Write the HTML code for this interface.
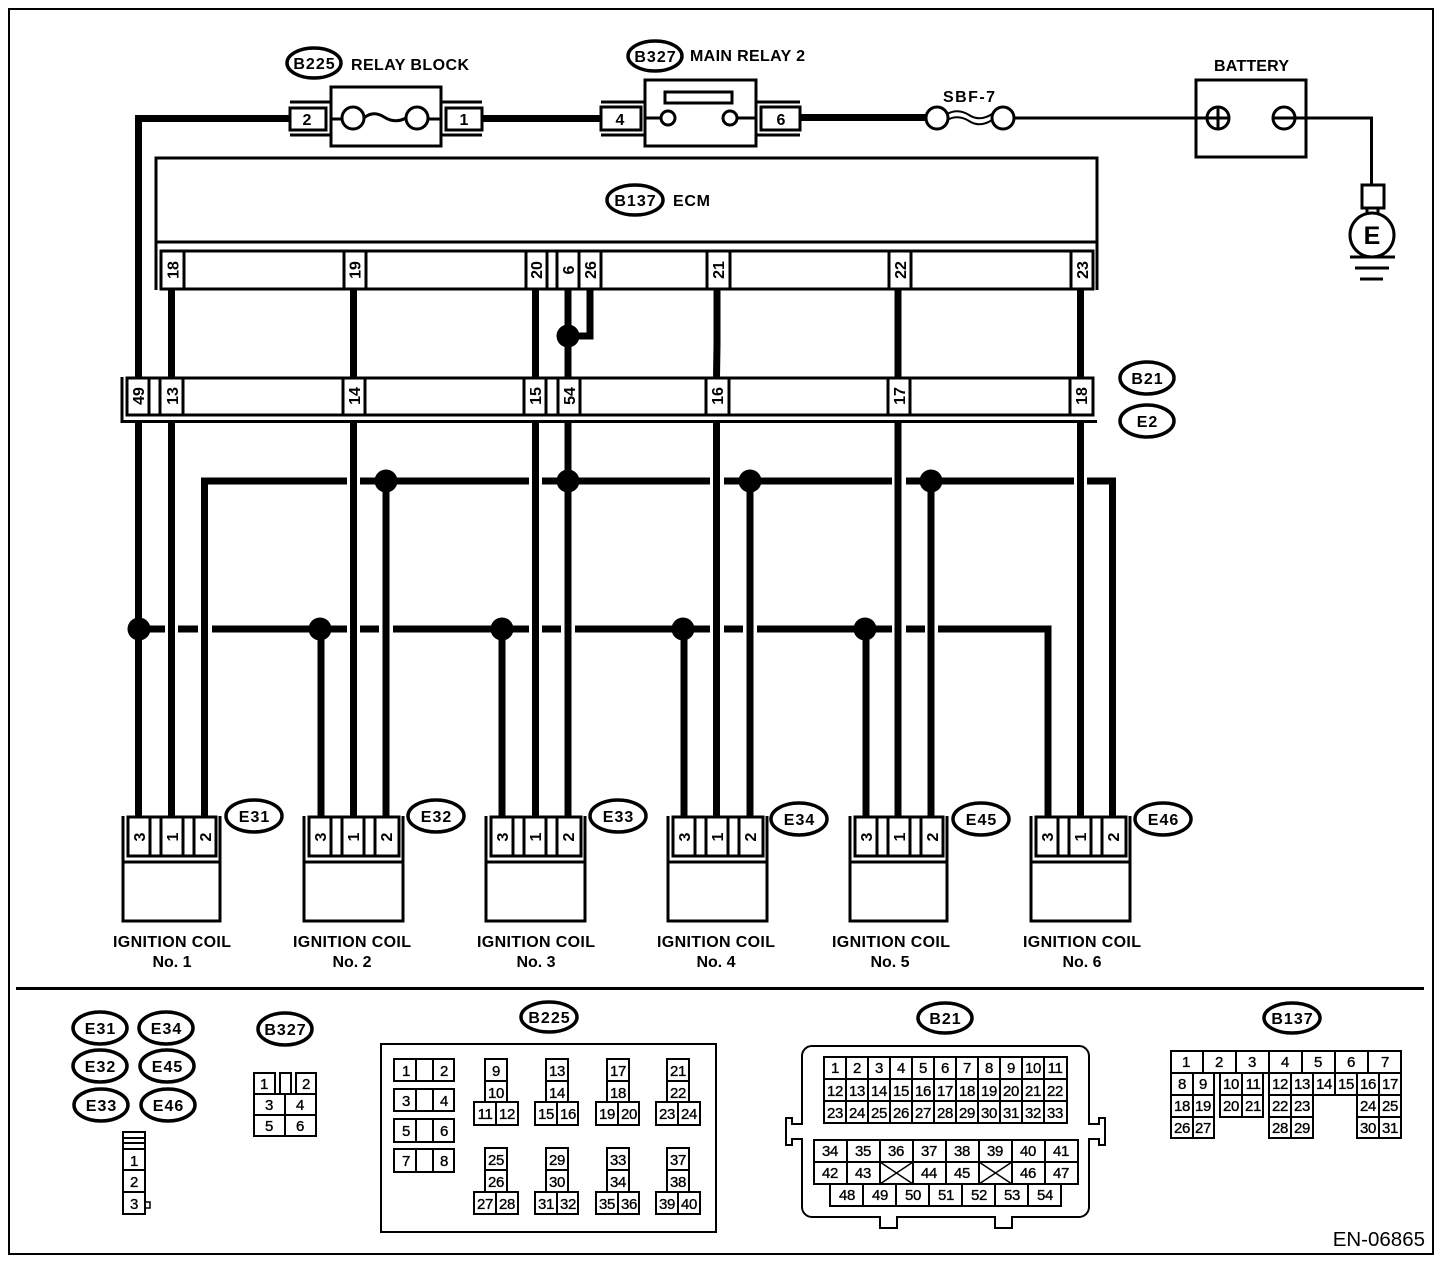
<!DOCTYPE html>
<html><head><meta charset="utf-8"><style>
html,body{margin:0;padding:0;background:#fff}
svg{display:block}
text{font-family:"Liberation Sans",sans-serif;fill:#000}
.b{font-weight:bold;font-size:16px}
.m{text-anchor:middle}
.p{font-weight:bold;font-size:16px;text-anchor:middle}
.o{font-weight:bold;font-size:16px;text-anchor:middle;letter-spacing:1px}
.n{font-size:15px;text-anchor:middle;stroke:#000;stroke-width:.35;letter-spacing:-.4px}
.s{fill:none;stroke:#000;stroke-width:3}
.t{fill:none;stroke:#000;stroke-width:2}
.w{fill:none;stroke:#000;stroke-width:7}
.f{fill:#fff;stroke:#000;stroke-width:3}
.e{fill:#fff;stroke:#000;stroke-width:3.5}
</style></head><body>
<svg width="1456" height="1268" viewBox="0 0 1456 1268" xmlns="http://www.w3.org/2000/svg">
<rect width="1456" height="1268" fill="#fff"/>
<rect x="9" y="9" width="1424" height="1245" class="t"/>

<!-- top wires -->
<path class="w" d="M138.500 380V118.500H290M483 118.500H601M801 117.500H926"/>
<path class="s" d="M1014 118H1207M1284 118H1371.500V186"/>

<!-- relay block -->
<rect x="331" y="87" width="110" height="59" class="s"/>
<path class="s" d="M290 102H331M290 135H331M441 102H482M441 135H482M331 119H342M428 119H441"/>
<rect x="290" y="108" width="36" height="22" class="f"/>
<rect x="446" y="108" width="36" height="22" class="f"/>
<circle cx="353" cy="118" r="11" class="f"/>
<circle cx="417" cy="118" r="11" class="f"/>
<path class="s" d="M364 118Q373 110 384 117T406 118"/>
<text x="307" y="125" class="p">2</text><text x="464" y="125" class="p">1</text>
<ellipse cx="314" cy="63" rx="27" ry="15" class="e"/>
<text x="314.500" y="69" class="o">B225</text>
<text x="351" y="70" class="b" textLength="118">RELAY BLOCK</text>

<!-- main relay -->
<rect x="645" y="80" width="111" height="66" class="s"/>
<rect x="665" y="92" width="67" height="11" class="s"/>
<path class="s" d="M601 102H645M601 135H645M756 102H800M756 135H800M645 118H661M738 118H756"/>
<rect x="601" y="107" width="40" height="23" class="f"/>
<rect x="761" y="107" width="39" height="23" class="f"/>
<circle cx="668" cy="118" r="7" class="f"/><circle cx="730" cy="118" r="7" class="f"/>
<text x="620" y="125" class="p">4</text><text x="781" y="125" class="p">6</text>
<ellipse cx="655" cy="56" rx="27" ry="15" class="e"/>
<text x="655.500" y="62" class="o">B327</text>
<text x="690" y="61" class="b" textLength="115">MAIN RELAY 2</text>

<!-- SBF -->
<circle cx="937" cy="118" r="11" class="f"/><circle cx="1003" cy="118" r="11" class="f"/>
<path class="t" d="M947 114Q958 108 969 115T992 114M947 120Q958 114 969 121T992 120"/>
<text x="943" y="102" class="b" textLength="52">SBF-7</text>

<!-- battery -->
<rect x="1196" y="80" width="110" height="77" class="s"/>
<circle cx="1218" cy="118" r="11" class="s"/><circle cx="1284" cy="118" r="11" class="s"/>
<path class="s" d="M1207 118H1229M1218 107V129M1273 118H1306"/>
<text x="1214" y="71" class="b" textLength="75">BATTERY</text>
<rect x="1362" y="185" width="22" height="23" class="s"/>
<path class="s" d="M1367 208V215M1378 208V215"/>
<circle cx="1372" cy="235" r="22" class="s"/>
<text x="1372" y="244" text-anchor="middle" font-weight="bold" font-size="25">E</text>
<path class="s" d="M1350 257H1395M1355 268H1389M1360 279H1383"/>

<!-- ECM -->
<path class="s" d="M156 290V158H1097V290M156 242H1097"/>
<ellipse cx="635" cy="200" rx="28" ry="15" class="e"/>
<text x="635.500" y="206" class="o">B137</text>
<text x="673" y="206" class="b" textLength="37">ECM</text>
<rect x="161" y="251" width="932" height="38" class="f"/>
<path class="s" d="M184 251V289M344 251V289M366 251V289M526 251V289M547 251V289M557 251V289M579 251V289M601 251V289M707 251V289M730 251V289M889 251V289M911 251V289M1071 251V289"/>
<text transform="translate(178.500 270) rotate(-90)" class="p">18</text>
<text transform="translate(360.500 270) rotate(-90)" class="p">19</text>
<text transform="translate(542 270) rotate(-90)" class="p">20</text>
<text transform="translate(574 270) rotate(-90)" class="p">6</text>
<text transform="translate(596 270) rotate(-90)" class="p">26</text>
<text transform="translate(724 270) rotate(-90)" class="p">21</text>
<text transform="translate(906 270) rotate(-90)" class="p">22</text>
<text transform="translate(1088 270) rotate(-90)" class="p">23</text>

<!-- ECM wires -->
<path class="w" d="M171.500 289V378M353.500 289V378M535.500 289V378M568 289V378M590 289V336H568M717 289V345L716.500 378M898 289V378M1080.500 289V378"/>
<circle cx="568" cy="336" r="11.500" fill="#000"/>

<!-- B21/E2 connector -->
<path class="s" d="M122 377V421.500H1097"/>
<rect x="127" y="378" width="966" height="37" class="f"/>
<path class="s" d="M149 378V415M160 378V415M183 378V415M343 378V415M365 378V415M524 378V415M546 378V415M558 378V415M580 378V415M706 378V415M729 378V415M888 378V415M910 378V415M1070 378V415"/>
<text transform="translate(144 396) rotate(-90)" class="p">49</text>
<text transform="translate(178 396) rotate(-90)" class="p">13</text>
<text transform="translate(360 396) rotate(-90)" class="p">14</text>
<text transform="translate(541 396) rotate(-90)" class="p">15</text>
<text transform="translate(575 396) rotate(-90)" class="p">54</text>
<text transform="translate(723 396) rotate(-90)" class="p">16</text>
<text transform="translate(905 396) rotate(-90)" class="p">17</text>
<text transform="translate(1087 396) rotate(-90)" class="p">18</text>
<ellipse cx="1147" cy="378" rx="27" ry="16" class="e"/>
<text x="1147.500" y="384" class="o">B21</text>
<ellipse cx="1147" cy="421" rx="27" ry="16" class="e"/>
<text x="1147.500" y="427" class="o">E2</text>

<!-- long verticals -->
<path class="w" d="M138.500 421V817M171.500 421V817M353.500 421V817M535.500 421V817M568 421V817M716.500 421V817M898 421V817M1080.500 421V817"/>
<path class="w" d="M204.500 817V481H347M360 481H529M542 481H710M724 481H892M906 481H1074M1087 481H1112.500V817"/>
<path class="w" d="M386 481V817M750 481V817M931 481V817"/>
<path class="w" d="M139 629H165M178 629H198M212 629H347M360 629H379M393 629H529M542 629H561M575 629H710M724 629H743M757 629H892M906 629H925M938 629H1048V817"/>
<path class="w" d="M321 629V817M502 629V817M684 629V817M866 629V817"/>
<g fill="#000">
<circle cx="386" cy="481" r="11.500"/><circle cx="568" cy="481" r="11.500"/><circle cx="750" cy="481" r="11.500"/><circle cx="931" cy="481" r="11.500"/>
<circle cx="139" cy="629" r="11.500"/><circle cx="320" cy="629" r="11.500"/><circle cx="502" cy="629" r="11.500"/><circle cx="683" cy="629" r="11.500"/><circle cx="865" cy="629" r="11.500"/>
</g>

<!-- coils -->
<g>
<path class="s" d="M123 816V862M220 816V862"/><rect x="123" y="862" width="97" height="59" class="s"/>
<rect x="128" y="817" width="88" height="39" class="f"/>
<path class="s" d="M150 817V856M161 817V856M183 817V856M194 817V856"/>
<text transform="translate(145 837) rotate(-90)" class="p">3</text>
<text transform="translate(178 837) rotate(-90)" class="p">1</text>
<text transform="translate(211 837) rotate(-90)" class="p">2</text>
</g>
<g transform="translate(181 0)">
<path class="s" d="M123 816V862M222 816V862"/><rect x="123" y="862" width="99" height="59" class="s"/>
<rect x="128" y="817" width="90" height="39" class="f"/>
<path class="s" d="M150 817V856M161 817V856M183 817V856M194 817V856"/>
<text transform="translate(145 837) rotate(-90)" class="p">3</text>
<text transform="translate(178 837) rotate(-90)" class="p">1</text>
<text transform="translate(211 837) rotate(-90)" class="p">2</text>
</g>
<g transform="translate(363 0)">
<path class="s" d="M123 816V862M222 816V862"/><rect x="123" y="862" width="99" height="59" class="s"/>
<rect x="128" y="817" width="90" height="39" class="f"/>
<path class="s" d="M150 817V856M161 817V856M183 817V856M194 817V856"/>
<text transform="translate(145 837) rotate(-90)" class="p">3</text>
<text transform="translate(178 837) rotate(-90)" class="p">1</text>
<text transform="translate(211 837) rotate(-90)" class="p">2</text>
</g>
<g transform="translate(545 0)">
<path class="s" d="M123 816V862M222 816V862"/><rect x="123" y="862" width="99" height="59" class="s"/>
<rect x="128" y="817" width="90" height="39" class="f"/>
<path class="s" d="M150 817V856M161 817V856M183 817V856M194 817V856"/>
<text transform="translate(145 837) rotate(-90)" class="p">3</text>
<text transform="translate(178 837) rotate(-90)" class="p">1</text>
<text transform="translate(211 837) rotate(-90)" class="p">2</text>
</g>
<g transform="translate(727 0)">
<path class="s" d="M123 816V862M220 816V862"/><rect x="123" y="862" width="97" height="59" class="s"/>
<rect x="128" y="817" width="88" height="39" class="f"/>
<path class="s" d="M150 817V856M161 817V856M183 817V856M194 817V856"/>
<text transform="translate(145 837) rotate(-90)" class="p">3</text>
<text transform="translate(178 837) rotate(-90)" class="p">1</text>
<text transform="translate(211 837) rotate(-90)" class="p">2</text>
</g>
<g transform="translate(908 0)">
<path class="s" d="M123 816V862M222 816V862"/><rect x="123" y="862" width="99" height="59" class="s"/>
<rect x="128" y="817" width="90" height="39" class="f"/>
<path class="s" d="M150 817V856M161 817V856M183 817V856M194 817V856"/>
<text transform="translate(145 837) rotate(-90)" class="p">3</text>
<text transform="translate(178 837) rotate(-90)" class="p">1</text>
<text transform="translate(211 837) rotate(-90)" class="p">2</text>
</g>

<ellipse cx="254" cy="816" rx="28" ry="16" class="e"/><text x="254.500" y="822" class="o">E31</text>
<ellipse cx="436" cy="816" rx="28" ry="16" class="e"/><text x="436.500" y="822" class="o">E32</text>
<ellipse cx="618" cy="816" rx="28" ry="16" class="e"/><text x="618.500" y="822" class="o">E33</text>
<ellipse cx="799" cy="819" rx="28" ry="16" class="e"/><text x="799.500" y="825" class="o">E34</text>
<ellipse cx="981" cy="819" rx="28" ry="16" class="e"/><text x="981.500" y="825" class="o">E45</text>
<ellipse cx="1163" cy="819" rx="28" ry="16" class="e"/><text x="1163.500" y="825" class="o">E46</text>

<text x="113" y="947" class="b" textLength="118">IGNITION COIL</text><text x="172" y="967" class="b m">No. 1</text>
<text x="293" y="947" class="b" textLength="118">IGNITION COIL</text><text x="352" y="967" class="b m">No. 2</text>
<text x="477" y="947" class="b" textLength="118">IGNITION COIL</text><text x="536" y="967" class="b m">No. 3</text>
<text x="657" y="947" class="b" textLength="118">IGNITION COIL</text><text x="716" y="967" class="b m">No. 4</text>
<text x="832" y="947" class="b" textLength="118">IGNITION COIL</text><text x="890" y="967" class="b m">No. 5</text>
<text x="1023" y="947" class="b" textLength="118">IGNITION COIL</text><text x="1082" y="967" class="b m">No. 6</text>

<path class="s" d="M16 988.500H1424"/>

<!-- legend ovals -->
<ellipse cx="100" cy="1028" rx="27" ry="16" class="e"/><text x="100.500" y="1034" class="o">E31</text>
<ellipse cx="166" cy="1028" rx="27" ry="16" class="e"/><text x="166.500" y="1034" class="o">E34</text>
<ellipse cx="100" cy="1066" rx="27" ry="16" class="e"/><text x="100.500" y="1072" class="o">E32</text>
<ellipse cx="167" cy="1066" rx="27" ry="16" class="e"/><text x="167.500" y="1072" class="o">E45</text>
<ellipse cx="101" cy="1105" rx="27" ry="16" class="e"/><text x="101.500" y="1111" class="o">E33</text>
<ellipse cx="168" cy="1105" rx="27" ry="16" class="e"/><text x="168.500" y="1111" class="o">E46</text>
<ellipse cx="285" cy="1029" rx="27" ry="16" class="e"/><text x="285.500" y="1035" class="o">B327</text>
<ellipse cx="549" cy="1017" rx="28" ry="15" class="e"/><text x="549.500" y="1023" class="o">B225</text>
<ellipse cx="945" cy="1018" rx="27" ry="15" class="e"/><text x="945.500" y="1024" class="o">B21</text>
<ellipse cx="1292" cy="1018" rx="28" ry="15" class="e"/><text x="1292.500" y="1024" class="o">B137</text>

<!-- coil connector -->
<rect x="123" y="1132" width="22" height="82" class="t"/>
<path class="t" d="M123 1138H145M123 1143H145M123 1149H145M123 1170H145M123 1192H145"/>
<rect x="145" y="1202" width="5" height="6" class="t" style="stroke-width:1.500"/>
<text x="134" y="1166" class="n">1</text><text x="134" y="1187" class="n">2</text><text x="134" y="1209" class="n">3</text>

<!-- B327 connector -->
<rect x="254" y="1073" width="21" height="21" class="t"/><rect x="280" y="1073" width="11" height="21" class="t"/><rect x="296" y="1073" width="20" height="21" class="t"/>
<rect x="254" y="1094" width="62" height="42" class="t"/><path class="t" d="M254 1115H316M285 1094V1136"/>
<text x="264" y="1089" class="n">1</text><text x="306" y="1089" class="n">2</text>
<text x="269" y="1110" class="n">3</text><text x="300" y="1110" class="n">4</text>
<text x="269" y="1131" class="n">5</text><text x="300" y="1131" class="n">6</text>

<!-- B225 connector -->
<rect x="381" y="1044" width="335" height="188" class="t"/>
<rect x="394" y="1059" width="60" height="22" class="t"/><path class="t" d="M416 1059V1081M433 1059V1081"/>
<rect x="394" y="1089" width="60" height="22" class="t"/><path class="t" d="M416 1089V1111M433 1089V1111"/>
<rect x="394" y="1119" width="60" height="23" class="t"/><path class="t" d="M416 1119V1142M433 1119V1142"/>
<rect x="394" y="1149" width="60" height="23" class="t"/><path class="t" d="M416 1149V1172M433 1149V1172"/>
<text x="406" y="1076" class="n">1</text><text x="444" y="1076" class="n">2</text>
<text x="406" y="1106" class="n">3</text><text x="444" y="1106" class="n">4</text>
<text x="406" y="1136" class="n">5</text><text x="444" y="1136" class="n">6</text>
<text x="406" y="1166" class="n">7</text><text x="444" y="1166" class="n">8</text>

<path class="t" d="M485 1102V1059H507V1102M485 1081H507M474 1102H518V1125H474ZM496 1102V1125"/>
<path class="t" d="M546 1102V1059H568V1102M546 1081H568M535 1102H578V1125H535ZM557 1102V1125"/>
<path class="t" d="M607 1102V1059H629V1102M607 1081H629M596 1102H639V1125H596ZM618 1102V1125"/>
<path class="t" d="M667 1102V1059H689V1102M667 1081H689M656 1102H700V1125H656ZM678 1102V1125"/>
<path class="t" d="M485 1192V1148H507V1192M485 1170H507M474 1192H518V1214H474ZM496 1192V1214"/>
<path class="t" d="M546 1192V1148H568V1192M546 1170H568M535 1192H578V1214H535ZM557 1192V1214"/>
<path class="t" d="M607 1192V1148H629V1192M607 1170H629M596 1192H639V1214H596ZM618 1192V1214"/>
<path class="t" d="M667 1192V1148H689V1192M667 1170H689M656 1192H700V1214H656ZM678 1192V1214"/>
<text x="496" y="1076" class="n">9</text><text x="496" y="1098" class="n">10</text><text x="485" y="1119" class="n">11</text><text x="507" y="1119" class="n">12</text>
<text x="557" y="1076" class="n">13</text><text x="557" y="1098" class="n">14</text><text x="546" y="1119" class="n">15</text><text x="568" y="1119" class="n">16</text>
<text x="618" y="1076" class="n">17</text><text x="618" y="1098" class="n">18</text><text x="607" y="1119" class="n">19</text><text x="629" y="1119" class="n">20</text>
<text x="678" y="1076" class="n">21</text><text x="678" y="1098" class="n">22</text><text x="667" y="1119" class="n">23</text><text x="689" y="1119" class="n">24</text>
<text x="496" y="1165" class="n">25</text><text x="496" y="1187" class="n">26</text><text x="485" y="1209" class="n">27</text><text x="507" y="1209" class="n">28</text>
<text x="557" y="1165" class="n">29</text><text x="557" y="1187" class="n">30</text><text x="546" y="1209" class="n">31</text><text x="568" y="1209" class="n">32</text>
<text x="618" y="1165" class="n">33</text><text x="618" y="1187" class="n">34</text><text x="607" y="1209" class="n">35</text><text x="629" y="1209" class="n">36</text>
<text x="678" y="1165" class="n">37</text><text x="678" y="1187" class="n">38</text><text x="667" y="1209" class="n">39</text><text x="689" y="1209" class="n">40</text>

<!-- B21 connector -->
<rect x="802" y="1046" width="287" height="171" rx="10" class="t"/>
<path d="M802 1125V1138M1089 1125V1138M881 1217H896M996 1217H1011" fill="none" stroke="#fff" stroke-width="4"/>
<path class="t" d="M802 1124H792V1118H786V1145H792V1139H802M1089 1124H1099V1118H1105V1145H1099V1139H1089"/>
<path class="t" d="M880 1217V1228H897V1217M995 1217V1228H1012V1217"/>
<rect x="824" y="1057" width="243" height="66" class="t"/>
<path class="t" d="M824 1079H1067M824 1101H1067M846 1057V1123M868 1057V1123M890 1057V1123M912 1057V1123M934 1057V1123M956 1057V1123M978 1057V1123M1000 1057V1123M1022 1057V1123M1044 1057V1123"/>
<text x="835" y="1073" class="n">1</text><text x="857" y="1073" class="n">2</text><text x="879" y="1073" class="n">3</text><text x="901" y="1073" class="n">4</text><text x="923" y="1073" class="n">5</text><text x="945" y="1073" class="n">6</text><text x="967" y="1073" class="n">7</text><text x="989" y="1073" class="n">8</text><text x="1011" y="1073" class="n">9</text><text x="1033" y="1073" class="n">10</text><text x="1055" y="1073" class="n">11</text>
<text x="835" y="1096" class="n">12</text><text x="857" y="1096" class="n">13</text><text x="879" y="1096" class="n">14</text><text x="901" y="1096" class="n">15</text><text x="923" y="1096" class="n">16</text><text x="945" y="1096" class="n">17</text><text x="967" y="1096" class="n">18</text><text x="989" y="1096" class="n">19</text><text x="1011" y="1096" class="n">20</text><text x="1033" y="1096" class="n">21</text><text x="1055" y="1096" class="n">22</text>
<text x="835" y="1118" class="n">23</text><text x="857" y="1118" class="n">24</text><text x="879" y="1118" class="n">25</text><text x="901" y="1118" class="n">26</text><text x="923" y="1118" class="n">27</text><text x="945" y="1118" class="n">28</text><text x="967" y="1118" class="n">29</text><text x="989" y="1118" class="n">30</text><text x="1011" y="1118" class="n">31</text><text x="1033" y="1118" class="n">32</text><text x="1055" y="1118" class="n">33</text>
<rect x="814" y="1140" width="264" height="44" class="t"/>
<path class="t" d="M814 1162H1078M847 1140V1184M880 1140V1184M913 1140V1184M946 1140V1184M979 1140V1184M1012 1140V1184M1045 1140V1184"/>
<path d="M880 1184L913 1162M880 1162L913 1184M979 1184L1012 1162M979 1162L1012 1184" fill="none" stroke="#000" stroke-width="1.500"/>
<rect x="830" y="1184" width="231" height="22" class="t"/>
<path class="t" d="M863 1184V1206M896 1184V1206M929 1184V1206M962 1184V1206M995 1184V1206M1028 1184V1206"/>
<text x="830" y="1156" class="n">34</text><text x="863" y="1156" class="n">35</text><text x="896" y="1156" class="n">36</text><text x="929" y="1156" class="n">37</text><text x="962" y="1156" class="n">38</text><text x="995" y="1156" class="n">39</text><text x="1028" y="1156" class="n">40</text><text x="1061" y="1156" class="n">41</text>
<text x="830" y="1178" class="n">42</text><text x="863" y="1178" class="n">43</text><text x="929" y="1178" class="n">44</text><text x="962" y="1178" class="n">45</text><text x="1028" y="1178" class="n">46</text><text x="1061" y="1178" class="n">47</text>
<text x="847" y="1200" class="n">48</text><text x="880" y="1200" class="n">49</text><text x="913" y="1200" class="n">50</text><text x="946" y="1200" class="n">51</text><text x="979" y="1200" class="n">52</text><text x="1012" y="1200" class="n">53</text><text x="1045" y="1200" class="n">54</text>

<!-- B137 connector -->
<rect x="1171" y="1051" width="230" height="22" class="t"/>
<path class="t" d="M1203 1051V1073M1236 1051V1073M1269 1051V1073M1302 1051V1073M1335 1051V1073M1368 1051V1073"/>
<rect x="1171" y="1073" width="43" height="65" class="t"/><path class="t" d="M1193 1073V1138M1171 1095H1214M1171 1117H1214"/>
<rect x="1220" y="1073" width="43" height="44" class="t"/><path class="t" d="M1242 1073V1117M1220 1095H1263"/>
<rect x="1269" y="1073" width="44" height="65" class="t"/><path class="t" d="M1291 1073V1138M1269 1095H1313M1269 1117H1313"/>
<rect x="1313" y="1073" width="44" height="22" class="t"/><path class="t" d="M1335 1073V1095"/>
<rect x="1357" y="1073" width="44" height="65" class="t"/><path class="t" d="M1379 1073V1138M1357 1095H1401M1357 1117H1401"/>
<text x="1186" y="1067" class="n">1</text><text x="1219" y="1067" class="n">2</text><text x="1252" y="1067" class="n">3</text><text x="1285" y="1067" class="n">4</text><text x="1318" y="1067" class="n">5</text><text x="1351" y="1067" class="n">6</text><text x="1385" y="1067" class="n">7</text>
<text x="1182" y="1089" class="n">8</text><text x="1203" y="1089" class="n">9</text><text x="1231" y="1089" class="n">10</text><text x="1253" y="1089" class="n">11</text><text x="1280" y="1089" class="n">12</text><text x="1302" y="1089" class="n">13</text><text x="1324" y="1089" class="n">14</text><text x="1346" y="1089" class="n">15</text><text x="1368" y="1089" class="n">16</text><text x="1390" y="1089" class="n">17</text>
<text x="1182" y="1111" class="n">18</text><text x="1203" y="1111" class="n">19</text><text x="1231" y="1111" class="n">20</text><text x="1253" y="1111" class="n">21</text><text x="1280" y="1111" class="n">22</text><text x="1302" y="1111" class="n">23</text><text x="1368" y="1111" class="n">24</text><text x="1390" y="1111" class="n">25</text>
<text x="1182" y="1133" class="n">26</text><text x="1203" y="1133" class="n">27</text><text x="1280" y="1133" class="n">28</text><text x="1302" y="1133" class="n">29</text><text x="1368" y="1133" class="n">30</text><text x="1390" y="1133" class="n">31</text>

<text x="1425" y="1246" text-anchor="end" font-size="20.500">EN-06865</text>
</svg>
</body></html>
